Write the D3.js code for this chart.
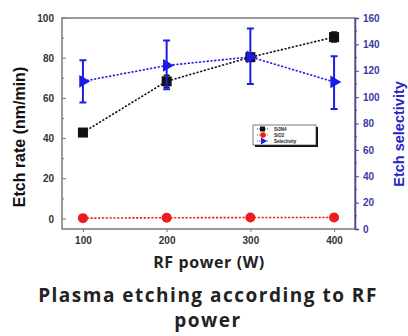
<!DOCTYPE html>
<html>
<head>
<meta charset="utf-8">
<script src="https://cdn.jsdelivr.net/npm/d3@7"></script>
<style>
  body { margin: 0; background: #fff; }
  svg { display: block; font-family: "Liberation Sans", Arial, sans-serif; }
</style>
</head>
<body>
<div id="chart"></div>
<script>
// data
const power = [100, 200, 300, 400];
const si3n4 = [43, 68.5, 80.5, 90.5];
const si3n4Err = [0, 3, 2, 2.5];
const sio2 = [0.4, 0.6, 0.7, 0.7];
const selectivity = [112, 124, 130.5, 111.5];
const selErrHi = [128, 143, 152, 131];
const selErrLo = [96, 106, 110, 91];

const xTicks = [100, 200, 300, 400];
const leftTicks = [0, 20, 40, 60, 80, 100];
const rightTicks = [0, 20, 40, 60, 80, 100, 120, 140, 160];
const legendNames = ["Si3N4", "SiO2", "Selectivity"];

const width = 408, height = 336;
const margin = { top: 18, right: 53, bottom: 107, left: 62 };

const svg = d3.select("#chart").append("svg")
  .attr("width", width).attr("height", height);

const x = d3.scaleLinear().domain([75, 425]).range([margin.left, width - margin.right]);
const yL = d3.scaleLinear().domain([-5, 100]).range([height - margin.bottom, margin.top]);
const yR = d3.scaleLinear().domain([0, 160]).range([height - margin.bottom, margin.top]);

const blue = "#1c1ce6", red = "#ee1c1c", black = "#111";
const frameColor = "#7a7a7a";

// frame
svg.append("rect")
  .attr("x", margin.left).attr("y", margin.top)
  .attr("width", width - margin.left - margin.right)
  .attr("height", height - margin.top - margin.bottom)
  .attr("fill", "none").attr("stroke", frameColor).attr("stroke-width", 1.5);

// bottom axis
const xAxis = svg.append("g")
  .attr("transform", "translate(0," + (height - margin.bottom) + ")")
  .call(d3.axisBottom(x).tickValues(xTicks).tickSize(3).tickPadding(5).tickFormat(d3.format("d")));
xAxis.select(".domain").remove();
xAxis.selectAll("line").attr("stroke", frameColor);
xAxis.selectAll("text").attr("font-size", 10).attr("font-weight", "bold").attr("fill", "#333");

// left axis (ticks inside)
const leftAxis = svg.append("g")
  .attr("transform", "translate(" + margin.left + ",0)")
  .call(d3.axisLeft(yL).tickValues(leftTicks).tickSize(0).tickPadding(8));
leftAxis.select(".domain").remove();
leftAxis.selectAll("text").attr("font-size", 10).attr("font-weight", "bold").attr("fill", "#333");
svg.append("g")
  .selectAll("line")
  .data(d3.range(0, 101, 10))
  .join("line")
  .attr("x1", margin.left).attr("x2", d => margin.left + (d % 20 === 0 ? 4 : 2))
  .attr("y1", d => yL(d)).attr("y2", d => yL(d))
  .attr("stroke", frameColor);

// right axis
const rightAxis = svg.append("g")
  .attr("transform", "translate(" + (width - margin.right) + ",0)")
  .call(d3.axisRight(yR).tickValues(rightTicks).tickSize(4).tickPadding(4));
rightAxis.select(".domain").attr("stroke", "#44449a").attr("stroke-width", 1.5);
rightAxis.selectAll("line").attr("stroke", "#44449a");
rightAxis.selectAll("text").attr("font-size", 10).attr("font-weight", "bold").attr("fill", "#3a3aa8");
svg.append("g")
  .selectAll("line")
  .data(d3.range(10, 160, 20))
  .join("line")
  .attr("x1", width - margin.right).attr("x2", width - margin.right + 2)
  .attr("y1", d => yR(d)).attr("y2", d => yR(d))
  .attr("stroke", "#44449a");

// axis titles
svg.append("text")
  .attr("transform", "translate(25,137) rotate(-90)")
  .attr("text-anchor", "middle")
  .attr("font-size", 16).attr("font-weight", "bold").attr("fill", "#111")
  .text("Etch rate (nm/min)");
svg.append("text")
  .attr("transform", "translate(404,134) rotate(-90)")
  .attr("text-anchor", "middle")
  .attr("font-size", 14.5).attr("font-weight", "bold").attr("fill", "#2424c8")
  .text("Etch selectivity");
svg.append("text")
  .attr("x", 209).attr("y", 268)
  .attr("text-anchor", "middle")
  .attr("font-family", "'Open Sans', sans-serif")
  .attr("font-size", 16).attr("letter-spacing", 0.6).attr("font-weight", "bold").attr("fill", "#222")
  .text("RF power (W)");

// two-line title
const titleLines = ["Plasma etching according to RF", "power"];
svg.append("g").selectAll("text")
  .data(titleLines)
  .join("text")
  .attr("x", 208).attr("y", (d, i) => 302 + i * 25)
  .attr("text-anchor", "middle")
  .attr("font-family", "'Open Sans', sans-serif")
  .attr("font-size", 19).attr("letter-spacing", 1.5).attr("font-weight", "bold").attr("fill", "#222")
  .text(d => d);

// dotted lines
const dash = "2.2,1.6";
function drawLine(vals, yScale, color) {
  svg.append("path")
    .datum(power.map((p, i) => [p, vals[i]]))
    .attr("fill", "none").attr("stroke", color).attr("stroke-width", 1.6)
    .attr("stroke-dasharray", dash)
    .attr("d", d3.line().x(d => x(d[0])).y(d => yScale(d[1])));
}
drawLine(sio2, yL, red);
drawLine(si3n4, yL, black);
drawLine(selectivity, yR, blue);

// black error bars
svg.append("g").selectAll("path")
  .data(power.map((p, i) => ({ p, v: si3n4[i], e: si3n4Err[i] })).filter(d => d.e > 0))
  .join("path")
  .attr("fill", "none").attr("stroke", black).attr("stroke-width", 1.5)
  .attr("d", d => {
    const cx = x(d.p), t = yL(d.v + d.e), b = yL(d.v - d.e);
    return `M${cx - 3},${t}H${cx + 3}M${cx},${t}V${b}M${cx - 3},${b}H${cx + 3}`;
  });

// markers
svg.append("g").selectAll("rect")
  .data(power.map((p, i) => [p, si3n4[i]]))
  .join("rect")
  .attr("x", d => x(d[0]) - 5).attr("y", d => yL(d[1]) - 5)
  .attr("width", 10).attr("height", 10).attr("fill", black);

svg.append("g").selectAll("circle")
  .data(power.map((p, i) => [p, sio2[i]]))
  .join("circle")
  .attr("cx", d => x(d[0])).attr("cy", d => yL(d[1]))
  .attr("r", 5).attr("fill", red);

// blue error bars
svg.append("g").selectAll("path")
  .data(power.map((p, i) => ({ p, hi: selErrHi[i], lo: selErrLo[i] })))
  .join("path")
  .attr("fill", "none").attr("stroke", blue).attr("stroke-width", 2)
  .attr("d", d => {
    const cx = x(d.p), t = yR(d.hi), b = yR(d.lo);
    return `M${cx - 3.5},${t}H${cx + 3.5}M${cx},${t}V${b}M${cx - 3.5},${b}H${cx + 3.5}`;
  });

const tri = d3.symbol().type(d3.symbolTriangle).size(70);
svg.append("g").selectAll("path")
  .data(power.map((p, i) => [p, selectivity[i]]))
  .join("path")
  .attr("d", tri)
  .attr("transform", d => `translate(${x(d[0])},${yR(d[1])}) rotate(90)`)
  .attr("fill", blue);

// legend
const lg = svg.append("g").attr("transform", "translate(253,125)");
lg.append("rect").attr("x", 2).attr("y", 2).attr("width", 63).attr("height", 20).attr("fill", "#111");
lg.append("rect").attr("width", 63).attr("height", 20).attr("fill", "#fff").attr("stroke", "#444").attr("stroke-width", 0.7);
const colors = [black, red, blue];
legendNames.forEach((name, i) => {
  const gy = 4 + i * 6;
  lg.append("line").attr("x1", 4).attr("x2", 16).attr("y1", gy).attr("y2", gy)
    .attr("stroke", colors[i]).attr("stroke-width", 0.8).attr("stroke-dasharray", "1,1");
  if (i === 0) lg.append("rect").attr("x", 7).attr("y", gy - 2.5).attr("width", 5).attr("height", 5).attr("fill", black);
  if (i === 1) lg.append("circle").attr("cx", 10).attr("cy", gy).attr("r", 2.8).attr("fill", red);
  if (i === 2) lg.append("path").attr("d", d3.symbol().type(d3.symbolTriangle).size(22))
    .attr("transform", `translate(10,${gy}) rotate(90)`).attr("fill", blue);
  lg.append("text").attr("x", 21).attr("y", gy + 1.6)
    .attr("font-size", 4.5).attr("font-weight", "bold").attr("fill", "#222").text(name);
});
</script>
</body>
</html>
